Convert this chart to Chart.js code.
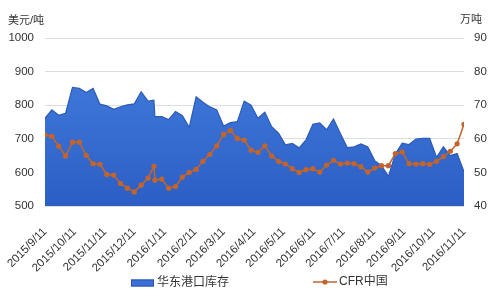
<!DOCTYPE html>
<html>
<head>
<meta charset="utf-8">
<script src="https://cdn.jsdelivr.net/npm/chart.js@4.4.0/dist/chart.umd.min.js"></script>
<style>
  html, body { margin: 0; padding: 0; background: #fff; }
</style>
</head>
<body>
<canvas id="stockChart" width="500" height="297"></canvas>
<script>
// weekly dates (one extra reading on 2015/12/31)
const dates = [
  '2015/9/11', '2015/9/18', '2015/9/25', '2015/10/2', '2015/10/9', '2015/10/16', '2015/10/23', '2015/10/30',
  '2015/11/6', '2015/11/13', '2015/11/20', '2015/11/27', '2015/12/4', '2015/12/11', '2015/12/18', '2015/12/25',
  '2015/12/31',
  '2016/1/1', '2016/1/8', '2016/1/15', '2016/1/22', '2016/1/29', '2016/2/5', '2016/2/12', '2016/2/19',
  '2016/2/26', '2016/3/4', '2016/3/11', '2016/3/18', '2016/3/25', '2016/4/1', '2016/4/8', '2016/4/15',
  '2016/4/22', '2016/4/29', '2016/5/6', '2016/5/13', '2016/5/20', '2016/5/27', '2016/6/3', '2016/6/10',
  '2016/6/17', '2016/6/24', '2016/7/1', '2016/7/8', '2016/7/15', '2016/7/22', '2016/7/29', '2016/8/5',
  '2016/8/12', '2016/8/19', '2016/8/26', '2016/9/2', '2016/9/9', '2016/9/16', '2016/9/23', '2016/9/30',
  '2016/10/7', '2016/10/14', '2016/10/21', '2016/10/28', '2016/11/4', '2016/11/11'
];

// 华东港口库存, 万吨 (right axis)
const stockValues = [
  66.1, 68.6, 67.0, 67.6, 75.3, 75.0, 73.8, 75.0,
  70.3, 69.8, 68.8, 69.5, 70.1, 70.4, 74.0, 71.2,
  71.5,
  66.6, 66.6, 65.7, 68.1, 66.9, 63.4, 72.5, 70.9,
  69.5, 68.6, 63.8, 64.8, 65.1, 71.2, 70.0, 66.1,
  67.9, 63.6, 61.7, 58.2, 58.6, 57.3, 59.7, 64.3,
  64.7, 62.7, 65.9, 61.6, 57.4, 57.6, 58.5, 57.6,
  53.5, 52.0, 48.8, 55.5, 58.7, 58.3, 59.9, 60.1,
  60.1, 54.5, 57.6, 55.0, 55.6, 50.2
];

// CFR中国, 美元/吨 (left axis)
const cfrValues = [
  712, 707, 678, 649, 690, 690, 651, 626,
  624, 594, 592, 567, 553, 542, 562, 583,
  618,
  577, 580, 553, 558, 586, 600, 609, 633,
  654, 679, 713, 725, 701, 696, 666, 660,
  679, 649, 633, 625, 611, 600, 608, 611,
  601, 622, 636, 625, 628, 626, 617, 601,
  613, 620, 620, 656, 661, 626, 625, 626,
  624, 633, 647, 663, 685, 743
];

const monthTicks = [
  '2015/9/11', '2015/10/11', '2015/11/11', '2015/12/11', '2016/1/11', '2016/2/11', '2016/3/11',
  '2016/4/11', '2016/5/11', '2016/6/11', '2016/7/11', '2016/8/11', '2016/9/11', '2016/10/11', '2016/11/11'
];

const FONT = '"Liberation Sans", "Noto Sans CJK SC", sans-serif';
const BLUE = '#3a70d8';
const ORANGE = '#c4642a';

function dayOffset(s) {
  const [y, m, d] = s.split('/').map(Number);
  return (Date.UTC(y, m - 1, d) - Date.UTC(2015, 8, 11)) / 86400000;
}

const tickDays = monthTicks.map(dayOffset);
const lastDay = dayOffset(dates[dates.length - 1]);

const stockPoints = dates.map((d, i) => ({ x: dayOffset(d), y: stockValues[i] }));
const cfrPoints = dates.map((d, i) => ({ x: dayOffset(d), y: cfrValues[i] }));

// legend + unit labels drawn by hand, Excel style
const extras = {
  id: 'extras',
  afterDraw(chart) {
    const ctx = chart.ctx;
    ctx.save();
    ctx.fillStyle = '#333';
    ctx.textBaseline = 'middle';
    ctx.font = '11px ' + FONT;
    ctx.textAlign = 'left';
    ctx.fillText('美元/吨', 8, 21);
    ctx.fillText('万吨', 460, 20);

    ctx.font = '12px ' + FONT;
    ctx.fillStyle = BLUE;
    ctx.fillRect(131, 279.5, 23, 7);
    ctx.strokeStyle = '#2a53a8';
    ctx.lineWidth = 1;
    ctx.strokeRect(131.5, 280, 22, 6);
    ctx.fillStyle = '#333';
    ctx.fillText('华东港口库存', 157, 283);

    ctx.strokeStyle = ORANGE;
    ctx.lineWidth = 1.5;
    ctx.beginPath();
    ctx.moveTo(313, 282);
    ctx.lineTo(337, 282);
    ctx.stroke();
    ctx.fillStyle = ORANGE;
    ctx.beginPath();
    ctx.arc(325, 282, 2.6, 0, Math.PI * 2);
    ctx.fill();
    ctx.fillStyle = '#333';
    ctx.fillText('CFR中国', 339, 282);
    ctx.restore();
  }
};

const ctx = document.getElementById('stockChart').getContext('2d');
const stockChart = new Chart(ctx, {
  type: 'line',
  data: {
    datasets: [
      {
        label: 'CFR中国',
        data: cfrPoints,
        yAxisID: 'y',
        borderColor: ORANGE,
        backgroundColor: ORANGE,
        pointBackgroundColor: ORANGE,
        pointBorderWidth: 0,
        pointRadius: 2.6,
        borderWidth: 1.5,
        tension: 0,
        fill: false,
        order: 1
      },
      {
        label: '华东港口库存',
        data: stockPoints,
        yAxisID: 'y1',
        borderColor: '#2d5bb8',
        borderWidth: 1.2,
        pointRadius: 0,
        tension: 0,
        fill: 'start',
        backgroundColor(context) {
          const area = context.chart.chartArea;
          if (!area) return BLUE;
          const g = context.chart.ctx.createLinearGradient(0, area.top, 0, area.bottom);
          g.addColorStop(0, '#4580e0');
          g.addColorStop(1, '#2c5ec4');
          return g;
        },
        order: 2
      }
    ]
  },
  options: {
    responsive: false,
    animation: false,
    layout: { padding: { top: 38, left: 0, right: 0, bottom: 0 } },
    plugins: { legend: { display: false }, tooltip: { enabled: false } },
    scales: {
      x: {
        type: 'linear',
        min: 0,
        max: lastDay,
        grid: { display: false },
        border: { display: false },
        afterBuildTicks(scale) {
          scale.ticks = tickDays.map(v => ({ value: v }));
        },
        afterFit(scale) {
          scale.height = 91;
          scale.paddingLeft = 0;
          scale.paddingRight = 0;
        },
        ticks: {
          autoSkip: false,
          minRotation: 45,
          maxRotation: 45,
          padding: 11,
          color: '#333',
          font: { family: FONT, size: 11.5 },
          callback(value) {
            const i = tickDays.indexOf(value);
            return i >= 0 ? monthTicks[i] : '';
          }
        }
      },
      y: {
        position: 'left',
        min: 500,
        max: 1000,
        grid: { color: '#dedede', drawTicks: false },
        border: { display: false },
        afterFit(scale) {
          scale.width = 45;
          scale.paddingTop = 0;
          scale.paddingBottom = 0;
        },
        ticks: {
          stepSize: 100,
          padding: 11,
          color: '#333',
          font: { family: FONT, size: 11.5 },
          callback: value => String(value)
        }
      },
      y1: {
        position: 'right',
        min: 40,
        max: 90,
        grid: { display: false, drawTicks: false },
        border: { display: false },
        afterFit(scale) {
          scale.width = 36;
          scale.paddingTop = 0;
          scale.paddingBottom = 0;
        },
        ticks: {
          stepSize: 10,
          padding: 10,
          color: '#333',
          font: { family: FONT, size: 11.5 },
          callback: value => String(value)
        }
      }
    }
  },
  plugins: [extras]
});
</script>
</body>
</html>
